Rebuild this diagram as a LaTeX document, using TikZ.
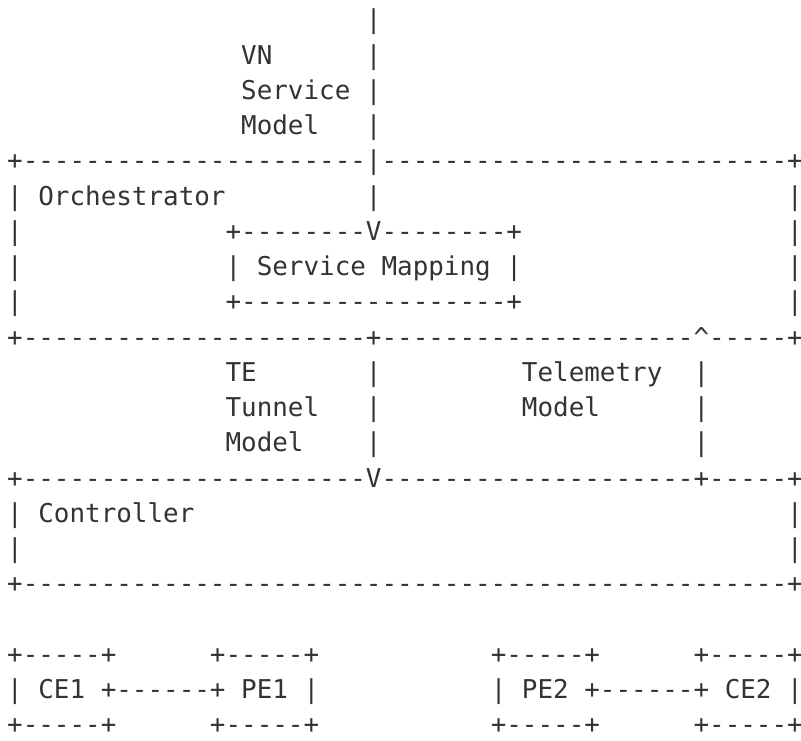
\documentclass[tikz,border=0pt]{standalone}
\usepackage{fontspec}
\setmonofont{DejaVu Sans Mono}

\begin{document}
\begin{tikzpicture}[x=6.0205pt, y=-13.603pt,
    art/.style={anchor=base west, inner sep=0pt, outer sep=0pt,
      font=\ttfamily\fontsize{10}{12}\selectfont, text=black!80}]
    \useasboundingbox (-0.4615,-0.8227) rectangle (50.885,20.199);

    % VN service model, into the orchestrator
    \foreach \r in {0,...,3}
      \node[art] (vnlink\r) at (23,\r) {|};
    \node[art] (vn) at (15,1) {VN};
    \node[art] (vnsrv) at (15,2) {Service};
    \node[art] (vnmod) at (15,3) {Model};

    % orchestrator
    \node[art] (orchtop) at (0,4) {+----------------------|--------------------------+};
    \foreach \r in {5,...,8} {
      \node[art] (orchl\r) at (0,\r) {|};
      \node[art] (orchr\r) at (50,\r) {|};
    }
    \node[art] (orch) at (2,5) {Orchestrator};
    \node[art] (vnlink5) at (23,5) {|};
    \node[art] (maptop) at (14,6) {+--------V--------+};
    \node[art] (mapl) at (14,7) {|};
    \node[art] (map) at (16,7) {Service Mapping};
    \node[art] (mapr) at (32,7) {|};
    \node[art] (mapbot) at (14,8) {+-----------------+};
    \node[art] (orchbot) at (0,9) {+----------------------+--------------------\textasciicircum-----+};

    % TE tunnel and telemetry models
    \foreach \r in {10,...,12} {
      \node[art] (telink\r) at (23,\r) {|};
      \node[art] (tmlink\r) at (44,\r) {|};
    }
    \node[art] (te) at (14,10) {TE};
    \node[art] (tetun) at (14,11) {Tunnel};
    \node[art] (temod) at (14,12) {Model};
    \node[art] (telem) at (33,10) {Telemetry};
    \node[art] (telmod) at (33,11) {Model};

    % controller
    \node[art] (ctrltop) at (0,13) {+----------------------V--------------------+-----+};
    \foreach \r in {14,15} {
      \node[art] (ctrll\r) at (0,\r) {|};
      \node[art] (ctrlr\r) at (50,\r) {|};
    }
    \node[art] (ctrl) at (2,14) {Controller};
    \node[art] (ctrlbot) at (0,16) {+-------------------------------------------------+};

    % CE and PE boxes
    \foreach \c/\n in {0/ce1, 13/pe1, 31/pe2, 44/ce2} {
      \node[art] (\n top) at (\c,18) {+-----+};
      \node[art] (\n bot) at (\c,20) {+-----+};
    }
    \node[art] (ce1l) at (0,19) {|};
    \node[art] (ce1) at (2,19) {CE1};
    \node[art] (link1) at (6,19) {+------+};
    \node[art] (pe1) at (15,19) {PE1};
    \node[art] (pe1r) at (19,19) {|};
    \node[art] (pe2l) at (31,19) {|};
    \node[art] (pe2) at (33,19) {PE2};
    \node[art] (link2) at (37,19) {+------+};
    \node[art] (ce2) at (46,19) {CE2};
    \node[art] (ce2r) at (50,19) {|};
  \end{tikzpicture}
\end{document}
